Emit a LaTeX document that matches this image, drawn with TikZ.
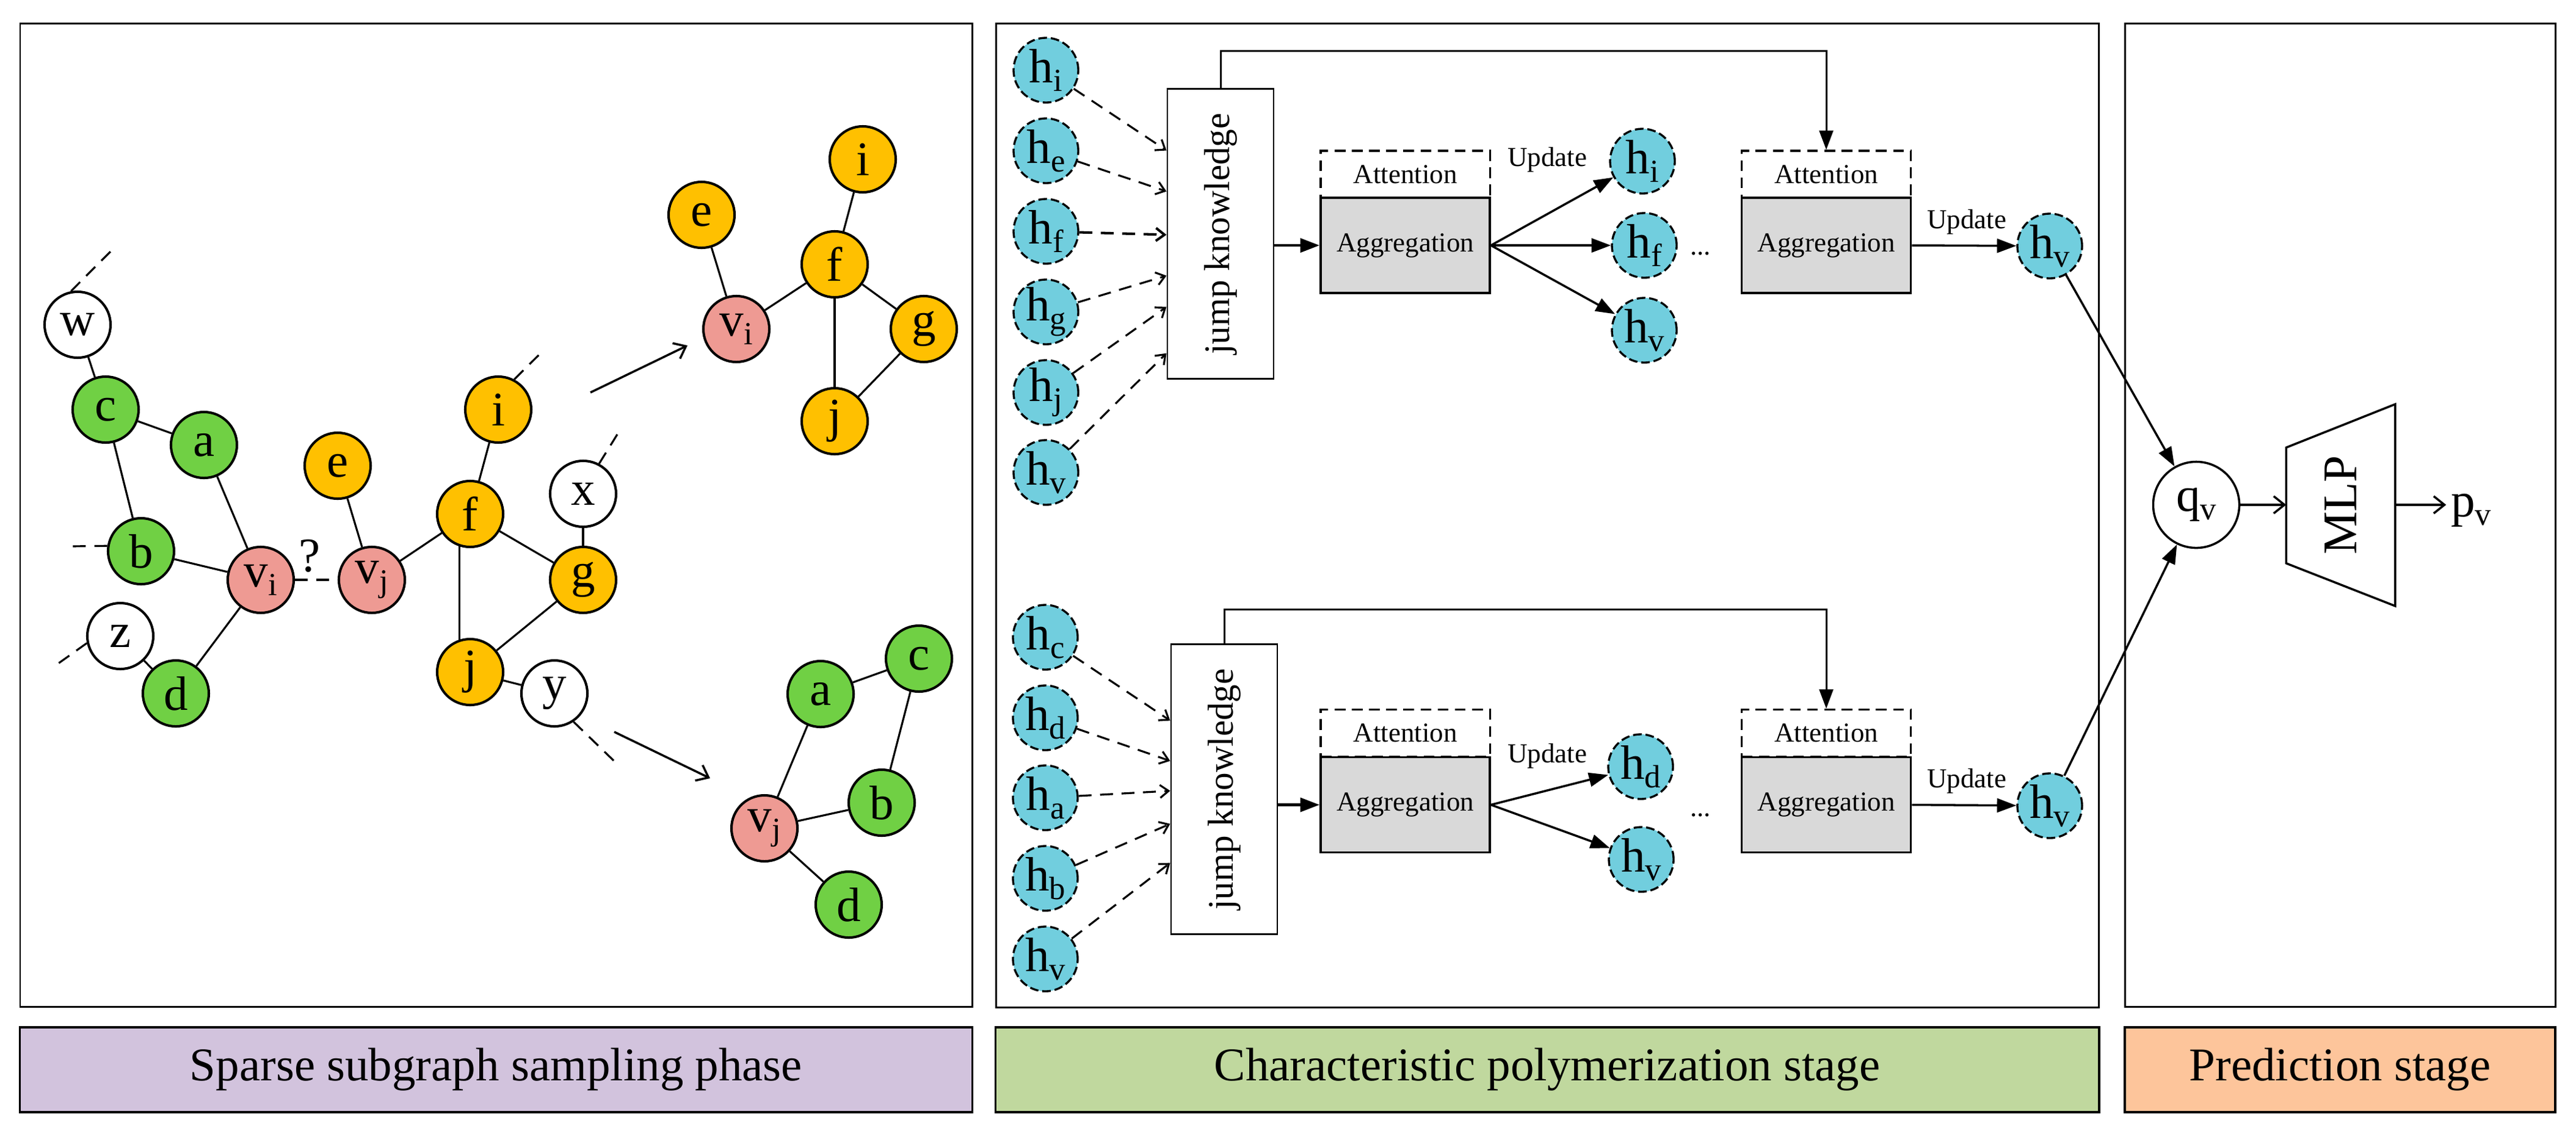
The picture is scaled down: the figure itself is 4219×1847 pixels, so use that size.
\documentclass[tikz,border=0pt]{standalone}
\usepackage{fontspec}
\setmainfont{Liberation Serif}
\usetikzlibrary{arrows.meta,calc}
\definecolor{ngreen}{HTML}{70D044}
\definecolor{ngold}{HTML}{FFC000}
\definecolor{npink}{HTML}{EE9A93}
\definecolor{ncyan}{HTML}{71CEDE}
\definecolor{agray}{HTML}{D9D9D9}
\definecolor{lpurple}{HTML}{D2C3DD}
\definecolor{lgreen}{HTML}{C0D89E}
\definecolor{lorange}{HTML}{FDC59B}
\newcommand\gfont{\fontsize{22.5}{26}\selectfont}
\newcommand\sfont{\fontsize{12.8}{15}\selectfont}
\newcommand\jfont{\fontsize{16.8}{20}\selectfont}
\newcommand\lfont{\fontsize{21.9}{26}\selectfont}
\newcommand\mysub[1]{\raisebox{-0.18em}{\fontsize{15}{15}\selectfont #1}}
\begin{document}
\begin{tikzpicture}[x=0.01cm,y=-0.01cm,
 gnode/.style={circle,draw,line width=1.15pt,minimum size=1.08cm,inner sep=0pt,font=\gfont},
 wn/.style={gnode,fill=white},
 gn/.style={gnode,fill=ngreen},
 yn/.style={gnode,fill=ngold},
 pn/.style={gnode,fill=npink},
 hn/.style={circle,draw,fill=ncyan,line width=0.95pt,dash pattern=on 4pt off 1.8pt,minimum size=1.06cm,inner sep=0pt,font=\gfont},
 gedge/.style={line width=0.9pt},
 stub/.style={line width=0.9pt,dash pattern=on 6pt off 4pt},
 barb/.style={line width=1pt,-{Straight Barb[length=5pt,width=8pt]}},
 darr/.style={line width=0.9pt,dash pattern=on 6pt off 4pt,-{Straight Barb[length=4pt,width=6pt]}},
 tri/.style={line width=1pt,-{Triangle[length=9pt,width=6.5pt]}},
 panel/.style={line width=0.85pt},
 labbox/.style={draw,line width=1.1pt,minimum height=1.39cm,inner sep=0pt,font=\lfont},
 jkbox/.style={draw,line width=0.8pt,fill=white,minimum width=1.74cm,minimum height=4.74cm,inner sep=0pt,font=\jfont},
 attbox/.style={draw,line width=0.9pt,dash pattern=on 5pt off 3pt,minimum width=2.77cm,minimum height=0.77cm,inner sep=0pt,font=\sfont},
 aggbox/.style={draw,line width=1pt,fill=agray,minimum width=2.77cm,minimum height=1.56cm,inner sep=0pt,font=\sfont},
 txt/.style={inner sep=0pt,font=\sfont}
]
\useasboundingbox (0,0) rectangle (4219,1847);
\fill[white] (0,0) rectangle (4219,1847);

% panels
\draw[panel] (33,38) rectangle (1592,1649);
\draw[panel] (1631,38) rectangle (3437,1650);
\draw[panel] (3480,38) rectangle (4185,1649);

% label boxes
\node[labbox,fill=lpurple,minimum width=15.59cm] (lab1) at (812.5,1752.5) {Sparse subgraph sampling phase};
\node[labbox,fill=lgreen,minimum width=18.06cm] (lab2) at (2534,1752.5) {Characteristic polymerization stage};
\node[labbox,fill=lorange,minimum width=7.05cm] (lab3) at (3832.5,1752.5) {Prediction stage};

% ---------------- left panel: full graph
\node[wn] (w) at (127,532) {w};
\node[gn] (c) at (173,671) {c};
\node[gn] (a) at (334,729) {a};
\node[gn] (b) at (231,903) {b};
\node[pn] (vi) at (427,950) {v\mysub{i}};
\node[pn] (vj) at (609,950) {v\mysub{j}};
\node[wn] (z) at (197,1042) {z};
\node[gn] (d) at (288,1136) {d};
\node[yn] (e) at (553,763) {e};
\node[yn] (i) at (816,671) {i};
\node[yn] (f) at (770,842) {f};
\node[wn] (x) at (955,809) {x};
\node[yn] (g) at (955,950) {g};
\node[yn] (j) at (770,1101) {j};
\node[wn] (y) at (908,1136) {y};
\node[font=\gfont,inner sep=0pt] (qm) at (507,911) {?};

\draw[gedge] (w) -- (c);
\draw[gedge] (c) -- (a);
\draw[gedge] (c) -- (b);
\draw[gedge] (a) -- (vi);
\draw[gedge] (b) -- (vi);
\draw[gedge] (vi) -- (d);
\draw[gedge] (z) -- (d);
\draw[gedge] (vj) -- (e);
\draw[gedge] (vj) -- (f);
\draw[gedge] (f) -- (i);
\draw[gedge] (f) -- (g);
\draw[gedge] (x) -- (g);
\draw[gedge] (g) -- (j);
\draw[gedge] (j) -- (y);
\draw[gedge] (f.-108) -- (j.108);
\draw[stub] (vi.east) -- (vj.west);

\coordinate (sw) at (184,409);
\coordinate (sb) at (116,895);
\coordinate (sz) at (94,1088);
\coordinate (si) at (885,579);
\coordinate (sx) at (1012,710);
\coordinate (sy) at (1006,1247);
\draw[stub] (w.101) -- (sw);
\draw[stub] (b.171) -- (sb);
\draw[stub] (z.192) -- (sz);
\draw[stub] (i.62) -- (si);
\draw[stub] (x.62) -- (sx);
\draw[stub] (y.-56) -- (sy);

\coordinate (a1s) at (967,643);
\coordinate (a1e) at (1126,566);
\coordinate (a2s) at (1006,1199);
\coordinate (a2e) at (1163,1275);
\draw[barb] (a1s) -- (a1e);
\draw[barb] (a2s) -- (a2e);

% upper sub-graph
\node[yn] (ue) at (1149,352) {e};
\node[yn] (ui) at (1413,261) {i};
\node[yn] (uf) at (1367,433) {f};
\node[pn] (uvi) at (1206,539) {v\mysub{i}};
\node[yn] (ug) at (1513,539) {g};
\node[yn] (uj) at (1367,690) {j};
\draw[gedge] (ue) -- (uvi);
\draw[gedge] (uvi) -- (uf);
\draw[gedge] (uf) -- (ui);
\draw[gedge] (uf) -- (ug);
\draw[gedge] (uf) -- (uj);
\draw[gedge] (ug) -- (uj);

% lower sub-graph
\node[gn] (la) at (1344,1137) {a};
\node[gn] (lc) at (1505,1079) {c};
\node[gn] (lb) at (1444,1315) {b};
\node[pn] (lvj) at (1252,1357) {v\mysub{j}};
\node[gn] (ld) at (1390,1482) {d};
\draw[gedge] (lvj) -- (la);
\draw[gedge] (la) -- (lc);
\draw[gedge] (lc) -- (lb);
\draw[gedge] (lvj) -- (lb);
\draw[gedge] (lvj) -- (ld);

% ---------------- middle panel, top row
\node[hn] (h1i) at (1713,115) {h\mysub{i}};
\node[hn] (h1e) at (1713,247) {h\mysub{e}};
\node[hn] (h1f) at (1713,379) {h\mysub{f}};
\node[hn] (h1g) at (1713,511) {h\mysub{g}};
\node[hn] (h1j) at (1713,643) {h\mysub{j}};
\node[hn] (h1v) at (1713,774) {h\mysub{v}};
\node[jkbox] (jk1) at (1999,383) {\rotatebox{90}{jump knowledge}};
\draw[darr] (h1i) -- ([yshift=-1.02cm]jk1.north west);
\draw[darr] (h1e) -- ([yshift=-1.69cm]jk1.north west);
\draw[darr,line width=1.15pt] (h1f) -- ([yshift=-2.40cm]jk1.north west);
\draw[darr] (h1g) -- ([yshift=-3.07cm]jk1.north west);
\draw[darr] (h1j) -- ([yshift=-3.58cm]jk1.north west);
\draw[darr] (h1v) -- ([yshift=-4.34cm]jk1.north west);

\node[attbox] (att1) at (2301.5,285.5) {Attention};
\node[aggbox] (agg1) at (2301.5,402) {Aggregation};
\node[attbox] (att2) at (2991,285.5) {Attention};
\node[aggbox] (agg2) at (2991,402) {Aggregation};
\draw[tri,line width=1.3pt] (jk1.east |- agg1.west) -- (agg1.west);
\draw[tri,line width=0.85pt] (jk1.north) -- ++(0,-61) -| (att2.north);

\node[hn] (h2i) at (2690,264) {h\mysub{i}};
\node[hn] (h2f) at (2693,402) {h\mysub{f}};
\node[hn] (h2v) at (2693,541) {h\mysub{v}};
\draw[tri] (agg1.east) -- (h2i);
\draw[tri] (agg1.east) -- (h2f);
\draw[tri] (agg1.east) -- (h2v);
\node[txt] (up1) at (2534,262) {Update};
\node[txt,anchor=base] (dots1) at (2785,417) {...};

\node[hn] (h3v) at (3357,403) {h\mysub{v}};
\draw[tri] (agg2.east) -- (h3v);
\node[txt] (up2) at (3221,364) {Update};

% ---------------- middle panel, bottom row
\node[hn] (h4c) at (1712,1044) {h\mysub{c}};
\node[hn] (h4d) at (1712,1176) {h\mysub{d}};
\node[hn] (h4a) at (1712,1307) {h\mysub{a}};
\node[hn] (h4b) at (1712,1439) {h\mysub{b}};
\node[hn] (h4v) at (1712,1571) {h\mysub{v}};
\node[jkbox] (jk2) at (2005,1293) {\rotatebox{90}{jump knowledge}};
\draw[darr] (h4c) -- ([yshift=-1.26cm]jk2.north west);
\draw[darr] (h4d) -- ([yshift=-1.92cm]jk2.north west);
\draw[darr] (h4a) -- ([yshift=-2.41cm]jk2.north west);
\draw[darr] (h4b) -- ([yshift=-2.95cm]jk2.north west);
\draw[darr] (h4v) -- ([yshift=-3.59cm]jk2.north west);

\node[attbox] (att3) at (2301.5,1201) {Attention};
\node[aggbox] (agg3) at (2301.5,1318.5) {Aggregation};
\node[attbox] (att4) at (2991,1201) {Attention};
\node[aggbox] (agg4) at (2991,1318.5) {Aggregation};
\draw[tri,line width=1.3pt] (jk2.east |- agg3.west) -- (agg3.west);
\draw[tri,line width=0.85pt] (jk2.north) -- ++(0,-56) -| (att4.north);

\node[hn] (h5d) at (2687,1256) {h\mysub{d}};
\node[hn] (h5v) at (2688,1408) {h\mysub{v}};
\draw[tri] (agg3.east) -- (h5d);
\draw[tri] (agg3.east) -- (h5v);
\node[txt] (up3) at (2534,1239) {Update};
\node[txt,anchor=base] (dots2) at (2785,1337) {...};

\node[hn] (h6v) at (3357,1320) {h\mysub{v}};
\draw[tri] (agg4.east) -- (h6v);
\node[txt] (up4) at (3221,1280) {Update};

% ---------------- right panel
\node[circle,draw,line width=1pt,fill=white,minimum size=1.41cm,inner sep=0pt,font=\gfont] (qv) at (3597,827) {q\mysub{v}};
\node[inner sep=0pt,minimum width=1.77cm,minimum height=3.29cm,font=\gfont] (mlp) at (3833.5,827.5) {\rotatebox{90}{MLP}};
\draw[line width=1pt] ($(mlp.north west)+(0,71)$) -- (mlp.north east) -- (mlp.south east) -- ($(mlp.south west)+(0,-70)$) -- cycle;
\node[inner sep=2pt,font=\gfont] (pv) at (4047,836) {p\mysub{v}};
\draw[tri] (h3v) -- (qv);
\draw[tri] (h6v) -- (qv);
\draw[barb] (qv) -- (qv -| mlp.west);
\draw[barb] (mlp.east |- qv) -- (pv.west |- qv);
\end{tikzpicture}
\end{document}
